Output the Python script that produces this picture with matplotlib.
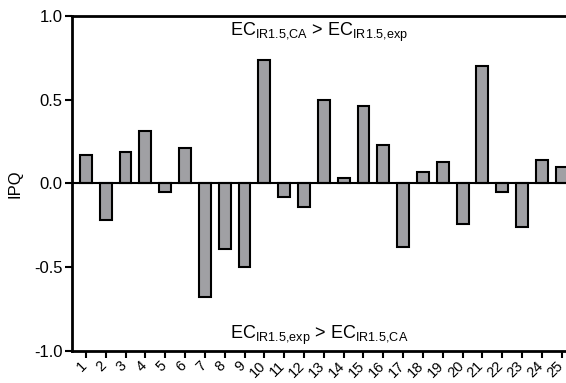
import matplotlib
matplotlib.use("Agg")
import matplotlib.pyplot as plt
from matplotlib.transforms import ScaledTranslation

plt.rcParams['font.family'] = ['Liberation Sans', 'DejaVu Sans']
plt.rcParams['mathtext.fontset'] = 'custom'
plt.rcParams['mathtext.rm'] = 'Liberation Sans'
plt.rcParams['mathtext.it'] = 'Liberation Sans'

categories = [str(i) for i in range(1, 26)]
ipq = [0.17, -0.22, 0.19, 0.31, -0.05, 0.21, -0.68, -0.39, -0.50, 0.74,
       -0.08, -0.14, 0.50, 0.03, 0.46, 0.23, -0.38, 0.07, 0.13, -0.24,
       0.70, -0.05, -0.26, 0.14, 0.10]
yticks = [-1.0, -0.5, 0.0, 0.5, 1.0]
ytick_labels = ['-1.0', '-0.5', '0.0', '0.5', '1.0']
top_text = r'$\mathrm{EC_{IR1.5{,}CA}}$ > $\mathrm{EC_{IR1.5{,}exp}}$'
bottom_text = r'$\mathrm{EC_{IR1.5{,}exp}}$ > $\mathrm{EC_{IR1.5{,}CA}}$'

fig = plt.figure(figsize=(5.66, 3.83), dpi=100)
ax = fig.add_axes([0.1272, 0.0843, 0.873, 0.8739])

x = list(range(1, len(categories) + 1))
ax.bar(x, ipq, width=0.6, color='#a0a0a4', edgecolor='black', linewidth=1.5, zorder=2)
ax.axhline(0, color='black', linewidth=1.5, zorder=3)

ax.set_xlim(0.3, 25.22)
ax.set_ylim(-1.0, 1.0)
ax.set_yticks(yticks)
ax.set_yticklabels(ytick_labels, fontsize=12)
ax.set_xticks(x)
ax.set_xticklabels([''] * len(x))
lbl_tr = ax.get_xaxis_transform() + ScaledTranslation(-6 / 100, -8 / 100, fig.dpi_scale_trans)
for xi, lab in zip(x, categories):
    ax.text(xi, 0, lab, transform=lbl_tr, rotation=45, ha='right', va='top',
            rotation_mode='anchor', fontsize=10.5, clip_on=False)
ax.set_ylabel('IPQ', fontsize=12, labelpad=8)

for s in ['left', 'bottom', 'top']:
    ax.spines[s].set_linewidth(2)
ax.spines['right'].set_visible(False)
ax.tick_params(axis='y', direction='out', length=5, width=1.5, pad=2)
ax.tick_params(axis='x', direction='out', length=5, width=1.5, pad=3)

ax.text(0.5, 0.95, top_text, transform=ax.transAxes, ha='center', va='center', fontsize=13)
ax.text(0.5, 0.047, bottom_text, transform=ax.transAxes, ha='center', va='center', fontsize=13)

fig.savefig('out.png', dpi=100)
